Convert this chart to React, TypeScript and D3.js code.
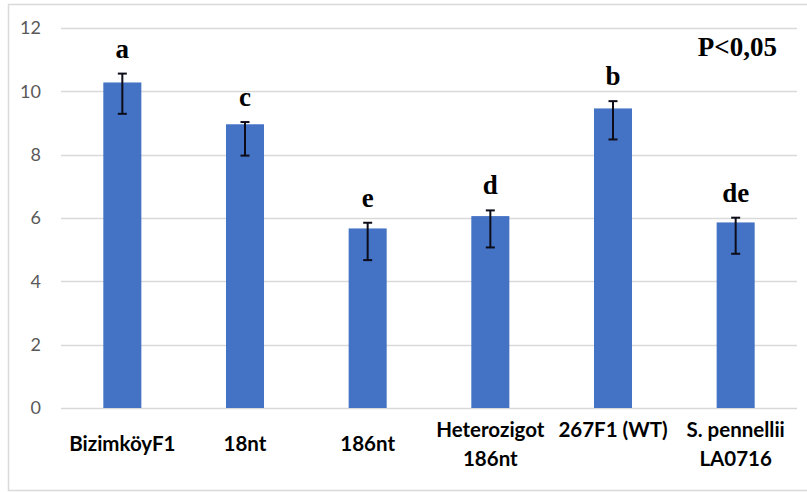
import React, { useEffect, useRef } from "react";
import * as d3 from "d3";

// chart data
const categories = [
  ["BizimköyF1"],
  ["18nt"],
  ["186nt"],
  ["Heterozigot", "186nt"],
  ["267F1 (WT)", ""],
  ["S. pennellii", "LA0716"],
];
const means = [10.28, 8.96, 5.67, 6.06, 9.46, 5.86];
const errUp = [0.28, 0.07, 0.18, 0.18, 0.23, 0.15];
const errDown = [0.99, 0.99, 1.0, 0.99, 0.98, 0.99];
const letters = ["a", "c", "e", "d", "b", "de"];
const yTicks = [0, 2, 4, 6, 8, 10, 12];

export default function App() {
  const svgRef = useRef(null);

  useEffect(() => {
    const W = 807;
    const H = 492;
    const margin = { top: 28, right: 10, bottom: 84, left: 61 };
    const plotW = W - margin.left - margin.right;
    const plotH = H - margin.top - margin.bottom;

    const svg = d3.select(svgRef.current);
    svg.selectAll("*").remove();

    // outer chart border
    svg.append("rect")
      .attr("x", 8.5)
      .attr("y", 4.5)
      .attr("width", 805)
      .attr("height", 486)
      .attr("fill", "#fff")
      .attr("stroke", "#d9d9d9")
      .attr("stroke-width", 1.5);

    const g = svg.append("g")
      .attr("transform", `translate(${margin.left},${margin.top})`);

    const x = d3.scaleBand()
      .domain(categories.map((d, i) => String(i)))
      .range([0, plotW])
      .paddingInner(0.69)
      .paddingOuter(0.345);

    const y = d3.scaleLinear().domain([0, 12]).range([plotH, 0]);

    // gridlines
    g.selectAll(".grid")
      .data(yTicks)
      .join("line")
      .attr("class", "grid")
      .attr("x1", 0)
      .attr("x2", plotW)
      .attr("y1", d => Math.round(y(d)) + 0.5)
      .attr("y2", d => Math.round(y(d)) + 0.5)
      .attr("stroke", "#d9d9d9")
      .attr("stroke-width", 1.3);

    // y axis labels
    const yAxis = g.append("g")
      .call(d3.axisLeft(y).tickValues(yTicks).tickSize(0).tickPadding(20));
    yAxis.select(".domain").remove();
    yAxis.selectAll("text")
      .attr("fill", "#595959")
      .style("font-family", "Lato, 'Open Sans', sans-serif")
      .style("font-size", "18px");

    // bars
    g.selectAll(".bar")
      .data(means)
      .join("rect")
      .attr("class", "bar")
      .attr("x", (d, i) => x(String(i)))
      .attr("y", d => y(d))
      .attr("width", x.bandwidth())
      .attr("height", d => plotH - y(d))
      .attr("fill", "#4472c4");

    // error bars
    const cx = i => x(String(i)) + x.bandwidth() / 2;
    const eb = g.selectAll(".err")
      .data(means)
      .join("g")
      .attr("class", "err")
      .attr("stroke", "#0d0d1a")
      .attr("stroke-width", 2);
    eb.append("line")
      .attr("x1", (d, i) => cx(i))
      .attr("x2", (d, i) => cx(i))
      .attr("y1", (d, i) => y(d + errUp[i]))
      .attr("y2", (d, i) => y(d - errDown[i]));
    eb.append("line")
      .attr("x1", (d, i) => cx(i) - 4.5)
      .attr("x2", (d, i) => cx(i) + 4.5)
      .attr("y1", (d, i) => y(d + errUp[i]))
      .attr("y2", (d, i) => y(d + errUp[i]));
    eb.append("line")
      .attr("x1", (d, i) => cx(i) - 4.5)
      .attr("x2", (d, i) => cx(i) + 4.5)
      .attr("y1", (d, i) => y(d - errDown[i]))
      .attr("y2", (d, i) => y(d - errDown[i]));

    // significance letters
    g.selectAll(".letter")
      .data(letters)
      .join("text")
      .attr("class", "letter")
      .attr("x", (d, i) => cx(i))
      .attr("y", (d, i) => y(means[i] + errUp[i]) - 16)
      .attr("text-anchor", "middle")
      .attr("fill", "#000")
      .style("font-family", "'Liberation Serif', 'Times New Roman', serif")
      .style("font-weight", "bold")
      .style("font-size", "27px")
      .text(d => d);

    g.append("text")
      .attr("x", 777 - margin.left)
      .attr("y", 56 - margin.top)
      .attr("text-anchor", "end")
      .attr("fill", "#000")
      .style("font-family", "'Liberation Serif', 'Times New Roman', serif")
      .style("font-weight", "bold")
      .style("font-size", "27px")
      .text("P<0,05");

    // category labels
    const lineH = 29;
    const labels = g.selectAll(".cat")
      .data(categories)
      .join("text")
      .attr("class", "cat")
      .attr("text-anchor", "middle")
      .attr("fill", "#000")
      .style("font-family", "Lato, 'Open Sans', sans-serif")
      .style("font-weight", "bold")
      .style("font-size", "20.5px");
    labels.each(function (lines, i) {
      const t = d3.select(this);
      const y0 = plotH + 43 - ((lines.length - 1) * lineH) / 2;
      lines.forEach((ln, k) => {
        t.append("tspan")
          .attr("x", cx(i))
          .attr("y", y0 + k * lineH)
          .text(ln);
      });
    });
  }, []);

  return (
    <svg
      ref={svgRef}
      width="807"
      height="492"
      style={{ position: "absolute", left: 0, top: 0, background: "#fff" }}
    />
  );
}
